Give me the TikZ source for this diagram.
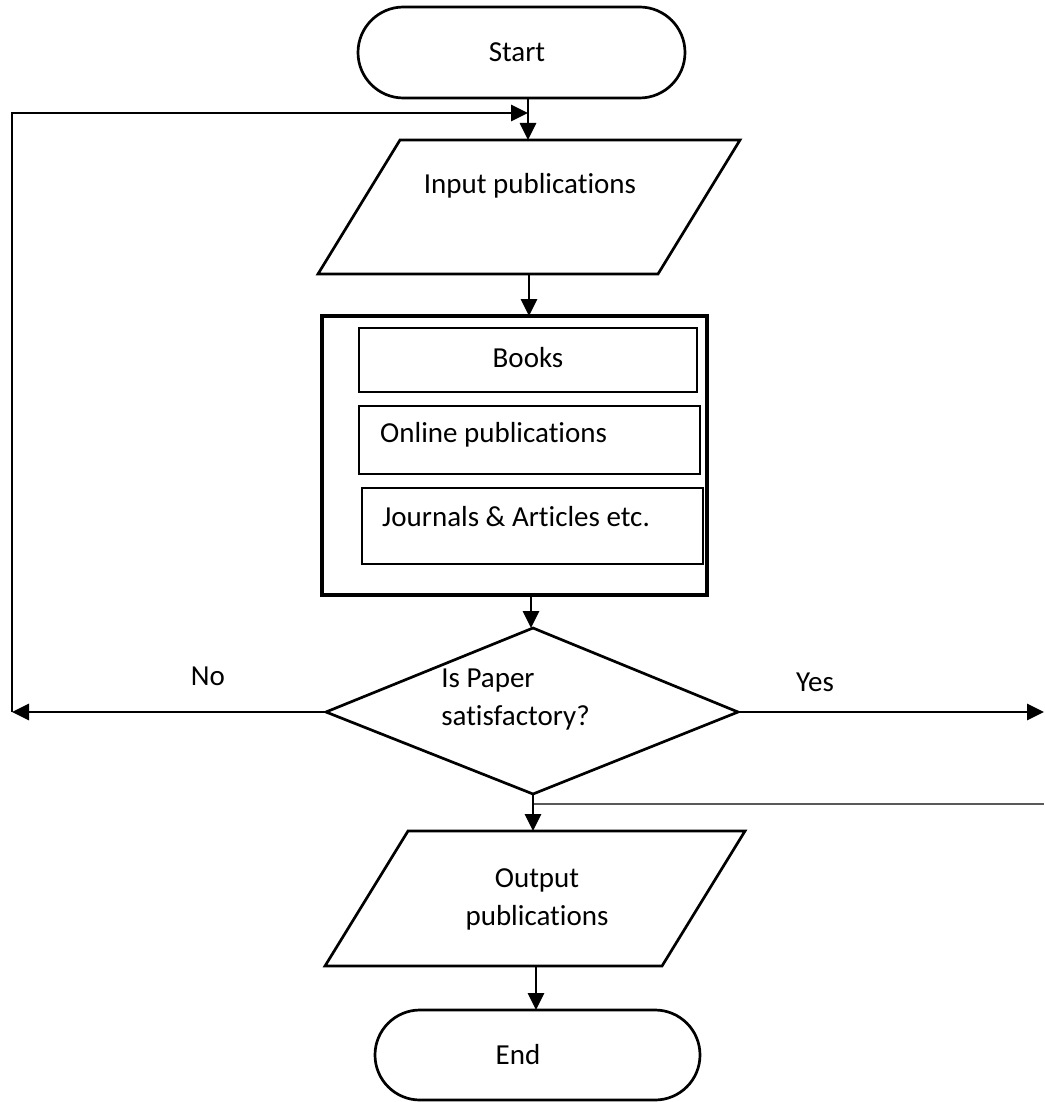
\documentclass[tikz,border=0pt]{standalone}
\usepackage{fontspec}
\setmainfont{Carlito}[Ligatures=NoCommon]
\usetikzlibrary{shapes.misc,arrows.meta}
\begin{document}
\begin{tikzpicture}[x=1pt,y=-1pt,
  font=\fontsize{29}{38}\selectfont,
  ln/.style={line width=2.7pt},
  arr/.style={line width=2.7pt,-{Triangle[length=17pt,width=16pt]}},
  term/.style={draw,line width=2.7pt,rounded rectangle,inner sep=0pt},
  inner/.style={draw,line width=1.7pt,inner sep=0pt},
  lbl/.style={inner sep=0pt},
  ghost/.style={inner sep=0pt}]
\useasboundingbox (0,0) rectangle (1044,1102);
% Start
\node[term,minimum width=327pt,minimum height=91pt] (start) at (521.5,52.5) {};
\node[lbl] (startT) at (517,52) {Start};
% Input publications
\node[ghost,minimum width=422pt,minimum height=134pt] (in) at (529,207) {};
\draw[ln,line join=miter] (318,274) -- (400,140) -- (740,140) -- (658,274) -- cycle;
\node[lbl] (inT) at (530,186) {Input publications};
% container
\node[draw,line width=3.2pt,minimum width=385pt,minimum height=279pt,inner sep=0pt] (box) at (514.5,455.5) {};
\node[inner,minimum width=338pt,minimum height=64pt] (books) at (528,360) {};
\node[lbl] (booksT) at (528,358) {Books};
\node[inner,minimum width=341pt,minimum height=68pt] (online) at (529.5,440) {};
\node[lbl,anchor=west] (onlineT) at (380,435) {Online publications};
\node[inner,minimum width=341pt,minimum height=76pt] (journals) at (532.5,526) {};
\node[lbl,anchor=west] (journalsT) at (382,517) {Journals \& Articles etc.};
% decision
\coordinate (dT) at (533,628);
\coordinate (dL) at (326,712);
\coordinate (dR) at (738,712);
\coordinate (dB) at (533,794);
\draw[ln,line join=miter] (dT) -- (dR) -- (dB) -- (dL) -- cycle;
\node[lbl,align=left] (dec) at (515.5,700) {Is Paper\\satisfactory?};
% output
\node[ghost,minimum width=420pt,minimum height=135pt] (out) at (535,898.5) {};
\draw[ln,line join=miter] (325,966) -- (408,831) -- (745,831) -- (662,966) -- cycle;
\node[lbl,align=center] (outT) at (537,899) {Output\\publications};
% End
\node[term,minimum width=325pt,minimum height=90pt] (end) at (537.5,1055) {};
\node[lbl] (endT) at (518,1055) {End};
% connector coordinates
\coordinate (loopT) at (12,113);
\coordinate (loopL) at (12,712);
\coordinate (yesE) at (1044,712);
\coordinate (grayE) at (1044,804);
\coordinate (grayS) at (533,804);
% connectors
\draw[arr] (528,98) -- (528,140);
\draw[line width=1.6pt] (loopL) -- (loopT);
\draw[arr] ([xshift=-0.8pt]loopT) -- (528,113);
\draw[arr] (529,274) -- (529,316);
\draw[arr] (531,595) -- (531,628);
\draw[arr] (dL) -- (loopL);
\node[lbl] (no) at (208,676) {No};
\draw[arr] (dR) -- (yesE);
\node[lbl] (yes) at (815,682) {Yes};
\draw[line width=1.6pt,black!65] (grayS) -- (grayE);
\draw[arr] (dB) -- (533,831);
\draw[arr] (536,966) -- (536,1010);
\end{tikzpicture}
\end{document}
